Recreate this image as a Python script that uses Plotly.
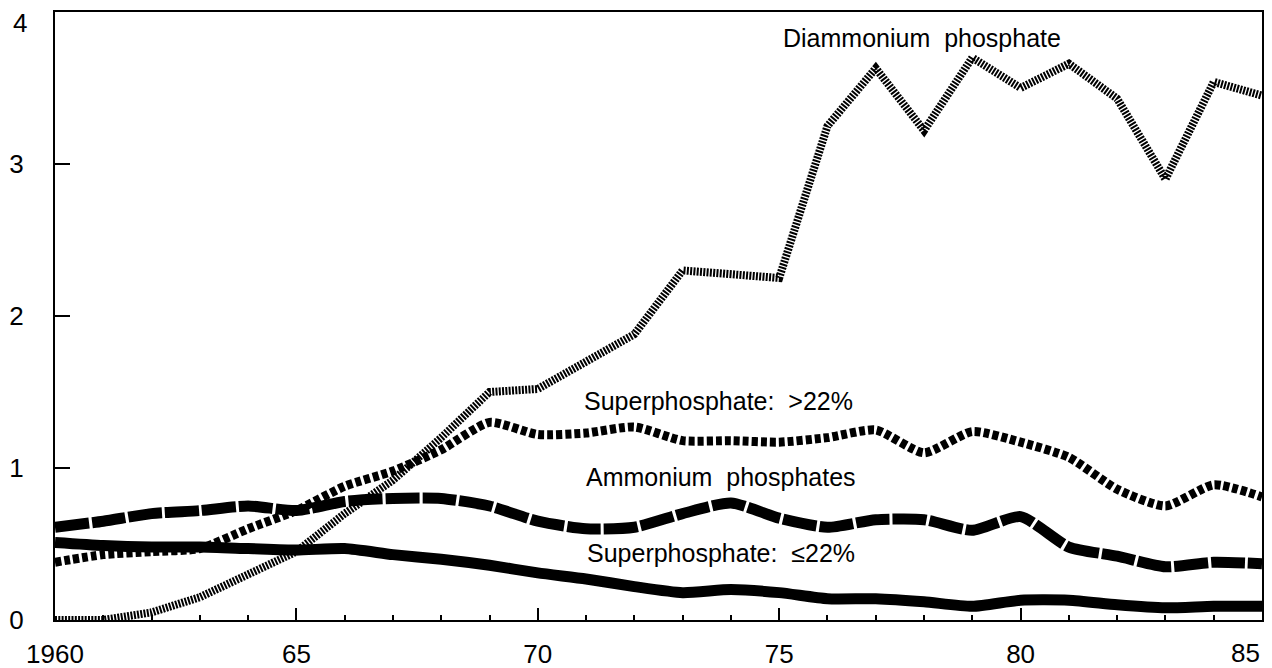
import plotly.graph_objects as go

years = list(range(1960, 1986))

diammonium = [0.0, 0.0, 0.05, 0.15, 0.3, 0.45, 0.7, 0.92, 1.2, 1.5, 1.52, 1.7, 1.88,
              2.3, 2.28, 2.25, 3.25, 3.63, 3.22, 3.7, 3.5, 3.66, 3.43, 2.9, 3.54, 3.45]
super_high = [0.38, 0.43, 0.45, 0.47, 0.6, 0.72, 0.88, 0.98, 1.12, 1.3, 1.22, 1.23, 1.27,
              1.18, 1.18, 1.17, 1.2, 1.25, 1.1, 1.24, 1.17, 1.07, 0.86, 0.75, 0.89, 0.81]
ammonium = [0.61, 0.65, 0.7, 0.72, 0.75, 0.72, 0.78, 0.8, 0.8, 0.75, 0.65, 0.6, 0.61,
            0.7, 0.77, 0.67, 0.61, 0.66, 0.66, 0.59, 0.68, 0.48, 0.42, 0.35, 0.38, 0.37]
super_low = [0.51, 0.49, 0.48, 0.48, 0.47, 0.46, 0.47, 0.43, 0.4, 0.36, 0.31, 0.27, 0.22,
             0.18, 0.2, 0.18, 0.14, 0.14, 0.12, 0.09, 0.13, 0.13, 0.1, 0.08, 0.09, 0.09]

x_tickvals = [1960, 1965, 1970, 1975, 1980, 1985]
x_ticktext = ["1960", "65", "70", "75", "80", ""]
y_tickvals = [0, 1, 2, 3, 4]
y_ticktext = ["0", "1", "2", "3", ""]

labels = {
    "Diammonium  phosphate": (1977.95, 3.83),
    "Superphosphate:  >22%": (1973.75, 1.44),
    "Ammonium  phosphates": (1973.8, 0.94),
    "Superphosphate:  ≤22%": (1973.8, 0.44),
}

font = "Liberation Sans, Arial, Helvetica, sans-serif"

fig = go.Figure()

fig.add_trace(go.Scatter(x=years, y=super_low, mode="lines", cliponaxis=False,
                         line=dict(color="black", width=11, shape="spline", smoothing=0.6)))
fig.add_trace(go.Scatter(x=years, y=ammonium, mode="lines", cliponaxis=False,
                         line=dict(color="black", width=11, dash="34px,3px",
                                   shape="spline", smoothing=0.6)))
fig.add_trace(go.Scatter(x=years, y=super_high, mode="lines", cliponaxis=False,
                         line=dict(color="black", width=9, dash="6px,3px",
                                   shape="spline", smoothing=0.6)))
fig.add_trace(go.Scatter(x=years, y=diammonium, mode="lines", cliponaxis=False,
                         line=dict(color="black", width=8, dash="2px,1.3px")))

for text, (x, y) in labels.items():
    fig.add_annotation(x=x, y=y, text=text, showarrow=False,
                       font=dict(family=font, size=25, color="black"))

# the end labels sit inside the page edge in the original
fig.add_annotation(x=1985, y=0, yref="paper", text="85", showarrow=False,
                   xanchor="right", yanchor="middle", yshift=-33,
                   font=dict(family=font, size=26, color="black"))
fig.add_annotation(x=0, xref="paper", y=4, text="4", showarrow=False,
                   xanchor="right", yanchor="top", xshift=-26, yshift=6,
                   font=dict(family=font, size=26, color="black"))

fig.update_xaxes(range=[1960, 1985], tickvals=x_tickvals, ticktext=x_ticktext,
                 ticks="inside", ticklen=12, tickwidth=1.5, tickcolor="black",
                 minor=dict(dtick=1, ticks="inside", ticklen=5, tickcolor="black"),
                 showline=True, linewidth=2, linecolor="black", mirror=True,
                 showgrid=False, zeroline=False, ticklabelstandoff=10,
                 automargin=False, ticklabeloverflow="allow",
                 tickfont=dict(family=font, size=26, color="black"))
fig.update_yaxes(range=[0, 4], tickvals=y_tickvals, ticktext=y_ticktext,
                 ticks="inside", ticklen=15, tickwidth=1.5, tickcolor="black",
                 showline=True, linewidth=2, linecolor="black", mirror=True,
                 showgrid=False, zeroline=False, ticklabelstandoff=24,
                 automargin=False, ticklabeloverflow="allow",
                 tickfont=dict(family=font, size=26, color="black"))

fig.update_layout(width=1272, height=668, showlegend=False,
                  plot_bgcolor="white", paper_bgcolor="white",
                  margin=dict(l=55, r=10, t=12, b=48))

# page body has a default 8px margin, drop it so the figure fills the window
fig.write_html("out.html", config={"displayModeBar": False},
               post_script="document.body.style.margin = '0';")
